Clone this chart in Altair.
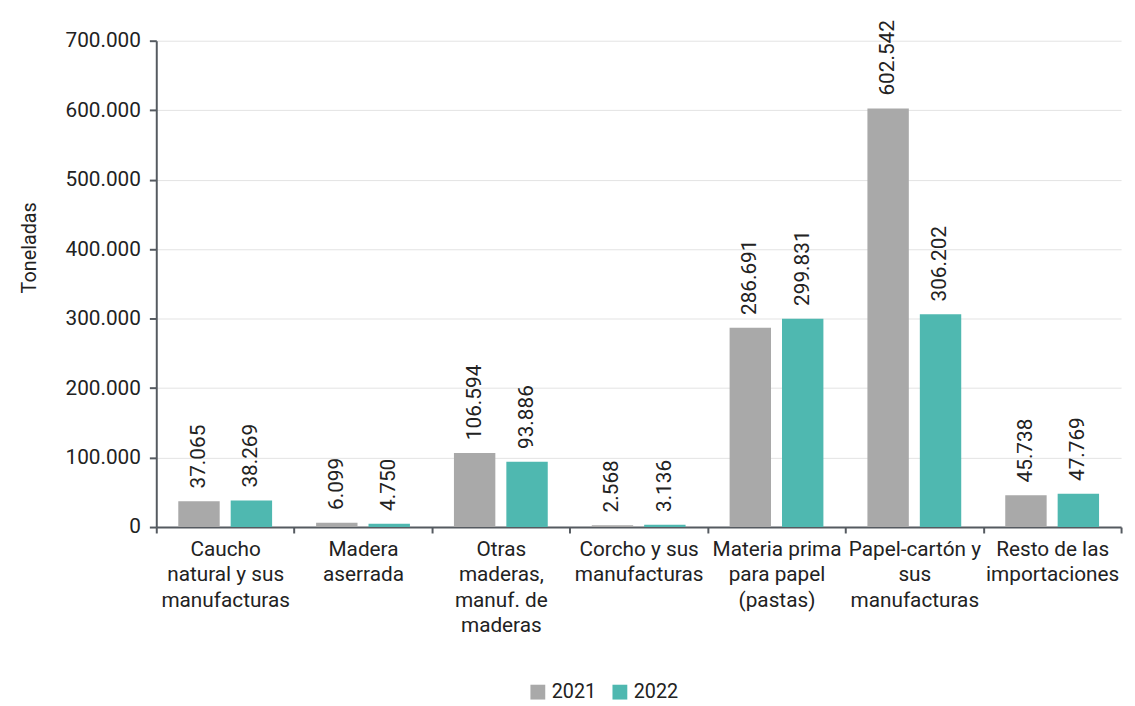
import altair as alt
import pandas as pd

categories = [
    "Caucho|natural y sus|manufacturas",
    "Madera|aserrada",
    "Otras|maderas,|manuf. de|maderas",
    "Corcho y sus|manufacturas",
    "Materia prima|para papel|(pastas)",
    "Papel-cartón y|sus|manufacturas",
    "Resto de las|importaciones",
]
values_2021 = [37065, 6099, 106594, 2568, 286691, 602542, 45738]
values_2022 = [38269, 4750, 93886, 3136, 299831, 306202, 47769]
years = ["2021", "2022"]
colors = ["#a9a9a9", "#4fb8b0"]


def fmt(v):
    return f"{v:,}".replace(",", ".")


rows = []
for c, a, b in zip(categories, values_2021, values_2022):
    rows.append({"cat": c, "year": "2021", "value": a, "label": fmt(a)})
    rows.append({"cat": c, "year": "2022", "value": b, "label": fmt(b)})
df = pd.DataFrame(rows)

font = "Roboto"
txt = "#222222"
axc = "#555a60"

x = alt.X(
    "cat:N",
    sort=categories,
    title=None,
    scale=alt.Scale(paddingInner=0, paddingOuter=0),
    axis=alt.Axis(
        labelExpr="split(datum.label, '|')",
        labelAngle=0,
        labelFontSize=21,
        labelLineHeight=25.5,
        labelColor=txt,
        labelPadding=6,
        labelBaseline="top",
        tickBand="extent",
        tickColor=axc,
        tickSize=6,
        tickWidth=2,
        domainColor=axc,
        domainWidth=2,
        grid=False,
        labelLimit=300,
    ),
)
xoff = alt.XOffset(
    "year:N",
    scale=alt.Scale(paddingInner=0.21, paddingOuter=0.42),
)
y = alt.Y(
    "value:Q",
    title="Toneladas",
    scale=alt.Scale(domain=[0, 700000]),
    axis=alt.Axis(
        values=[0, 100000, 200000, 300000, 400000, 500000, 600000, 700000],
        labelExpr="replace(format(datum.value, ','), regexp(',', 'g'), '.')",
        labelFontSize=21,
        labelColor=txt,
        labelPadding=9,
        titleFontSize=20,
        titleFontWeight="normal",
        titleColor=txt,
        titleAngle=270,
        titleAlign="center",
        titleBaseline="bottom",
        titleX=-118,
        titleY=209,
        tickColor=axc,
        tickSize=7,
        tickWidth=2,
        domainColor=axc,
        domainWidth=2,
        gridColor="#e3e3e3",
        gridWidth=1,
    ),
)

base = alt.Chart(df).encode(x=x, xOffset=xoff, y=y)

bars = base.mark_bar().encode(
    color=alt.Color(
        "year:N",
        scale=alt.Scale(domain=years, range=colors),
        legend=alt.Legend(
            title=None,
            orient="none",
            legendX=376,
            legendY=649,
            direction="horizontal",
            symbolType="square",
            symbolSize=225,
            symbolStrokeWidth=0,
            labelFontSize=20,
            labelColor=txt,
            columnPadding=14,
        ),
    ),
)

text = base.mark_text(
    angle=270, align="left", baseline="middle", dx=13, fontSize=21, color=txt, font=font
).encode(text="label:N")

chart = (
    alt.layer(bars, text)
    .properties(width=976, height=492, padding={"top": 8, "left": 12, "right": 5, "bottom": 5})
    .configure(font=font)
    .configure_view(stroke=None)
)

chart.save("out.html", embed_options={"renderer": "svg", "actions": False})
